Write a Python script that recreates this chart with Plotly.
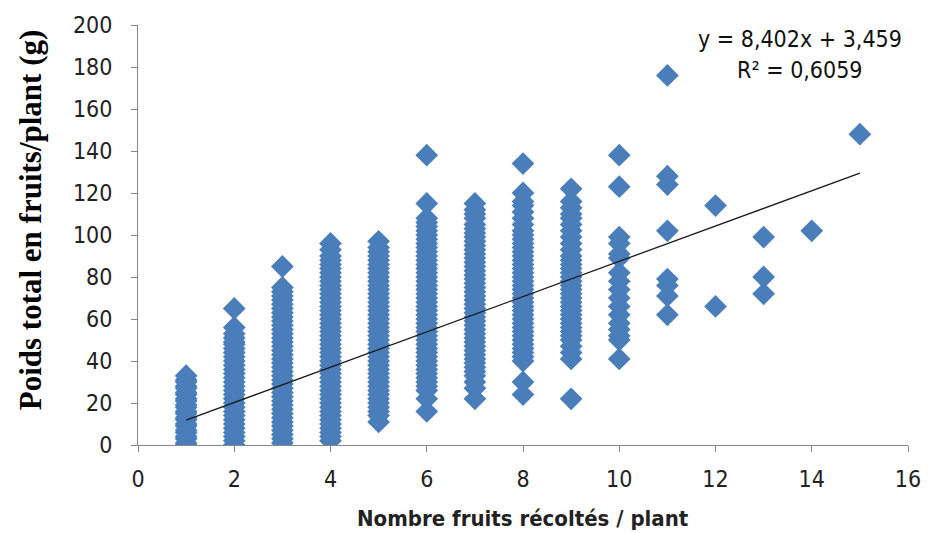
import plotly.graph_objects as go

# Poids total (g) par nombre de fruits récoltés / plant
col_1 = [33, 31, 30, 28, 27, 25, 24, 22, 21, 19, 18, 16, 15, 13, 12, 10, 9, 7, 6, 4, 3, 1, 0]
col_2 = [65, 56, 53, 51, 49, 48, 46, 44, 42, 40, 38, 36, 34, 32, 30, 28, 26, 24, 22, 20,
         18, 16, 14, 12, 10, 8, 6, 4, 2, 0]
col_3 = [85, 75, 73, 71, 69, 67, 65, 63, 61, 59, 57, 55, 53, 51, 49, 47, 45, 43, 41, 39,
         37, 35, 33, 31, 29, 27, 25, 23, 21, 19, 17, 15, 13, 11, 9, 7, 5, 3, 1]
col_4 = [96, 93, 90, 88, 86, 84, 82, 80, 78, 76, 74, 72, 70, 68, 66, 64, 62, 60, 58, 56,
         54, 52, 50, 48, 46, 44, 42, 40, 38, 36, 34, 32, 30, 28, 26, 24, 22, 20, 18, 16,
         14, 12, 10, 8, 6, 4, 2]
col_5 = [97, 94, 92, 90, 88, 86, 84, 82, 80, 78, 76, 74, 72, 70, 68, 66, 64, 62, 60, 58,
         56, 54, 52, 50, 48, 46, 44, 42, 40, 38, 36, 34, 32, 30, 28, 26, 24, 22, 20, 18,
         16, 14, 11]
col_6 = [138, 115, 108, 106, 104, 102, 100, 98, 96, 94, 92, 90, 88, 86, 84, 82, 80, 78, 76,
         74, 72, 70, 68, 66, 64, 62, 60, 58, 56, 54, 52, 50, 48, 46, 44, 42, 40, 38, 36,
         34, 32, 30, 28, 26, 22, 16]
col_7 = [115, 112, 110, 108, 105, 103, 101, 99, 97, 95, 93, 91, 89, 87, 85, 83, 81, 79, 77,
         75, 73, 71, 69, 67, 65, 63, 61, 59, 57, 55, 53, 51, 49, 47, 45, 43, 41, 39, 37,
         35, 33, 30, 27, 22]
col_8 = [134, 120, 116, 114, 111, 108, 105, 102, 100, 98, 96, 94, 92, 90, 88, 86, 84, 82, 80,
         78, 76, 74, 72, 70, 68, 66, 64, 62, 60, 58, 56, 54, 52, 50, 48, 46, 44, 42, 40,
         30, 24]
col_9 = [122, 116, 113, 110, 108, 105, 102, 99, 96, 93, 90, 88, 86, 84, 82, 80, 78, 76, 74,
         72, 70, 68, 66, 64, 62, 60, 58, 56, 54, 52, 50, 47, 44, 41, 22]
col_10 = [138, 123, 99, 96, 91, 89, 82, 78, 74, 70, 66, 62, 58, 55, 52, 50, 41]
col_11 = [176, 128, 124, 102, 79, 76, 71, 62]
col_12 = [114, 66]
col_13 = [99, 80, 72]
col_14 = [102]
col_15 = [148]

columns = {1: col_1, 2: col_2, 3: col_3, 4: col_4, 5: col_5, 6: col_6, 7: col_7, 8: col_8,
           9: col_9, 10: col_10, 11: col_11, 12: col_12, 13: col_13, 14: col_14, 15: col_15}

slope = 8.402
intercept = 3.459
trend_x = [1, 15]
equation_text = "y = 8,402x + 3,459"
r2_text = "R² = 0,6059"

x_ticks = [0, 2, 4, 6, 8, 10, 12, 14, 16]
y_ticks = [0, 20, 40, 60, 80, 100, 120, 140, 160, 180, 200]

xs, ys = [], []
for k, vals in columns.items():
    for v in vals:
        xs.append(k)
        ys.append(v)

fig = go.Figure()
fig.add_trace(go.Scatter(
    x=xs, y=ys, mode="markers",
    marker=dict(symbol="diamond", size=17.5, color="#4A7EBB", line=dict(width=0)),
    showlegend=False, hoverinfo="x+y"))
fig.add_trace(go.Scatter(
    x=trend_x, y=[slope * t + intercept for t in trend_x], mode="lines",
    line=dict(color="#1a1a1a", width=1.3), showlegend=False))

sans = "Liberation Sans Narrow, DejaVu Sans Condensed, Arial"
tick_font = dict(family=sans, size=23, color="#222222")

L, R, T, B = 138, 16, 22, 88
W = 933 - L - R

fig.update_layout(
    width=933, height=533,
    margin=dict(l=L, r=R, t=T, b=B),
    plot_bgcolor="white", paper_bgcolor="white",
    xaxis=dict(range=[0, 16], tickvals=x_ticks, showgrid=False, zeroline=False,
               showline=True, linecolor="#868686", linewidth=1,
               ticks="outside", ticklen=6, tickcolor="#868686",
               tickfont=tick_font, ticklabelstandoff=7),
    yaxis=dict(range=[0, 200], tickvals=y_ticks, showgrid=False, zeroline=False,
               showline=True, linecolor="#868686", linewidth=1,
               ticks="outside", ticklen=6, tickcolor="#868686",
               tickfont=tick_font, ticklabelstandoff=14),
    annotations=[
        dict(text="<b>Poids total en fruits/plant (g)</b>", textangle=-90,
             xref="paper", yref="paper", x=0, y=0.535, xshift=-108,
             xanchor="center", yanchor="middle", showarrow=False,
             font=dict(family="Liberation Serif, Times New Roman, serif", size=31, color="#000000")),
        dict(text="<b>Nombre fruits récoltés / plant</b>",
             xref="paper", yref="paper", x=(527 - L) / W, y=0, yshift=-73,
             xanchor="center", yanchor="middle", showarrow=False,
             font=dict(family=sans, size=22, color="#222222")),
        dict(text=equation_text, xref="paper", yref="paper", x=(808 - L) / W, y=1,
             yshift=-14, xanchor="center", yanchor="middle", showarrow=False,
             font=dict(family=sans, size=23, color="#111111")),
        dict(text=r2_text, xref="paper", yref="paper", x=(808 - L) / W, y=1,
             yshift=-45, xanchor="center", yanchor="middle", showarrow=False,
             font=dict(family=sans, size=23, color="#111111")),
    ],
)

fig.write_html("out.html")
